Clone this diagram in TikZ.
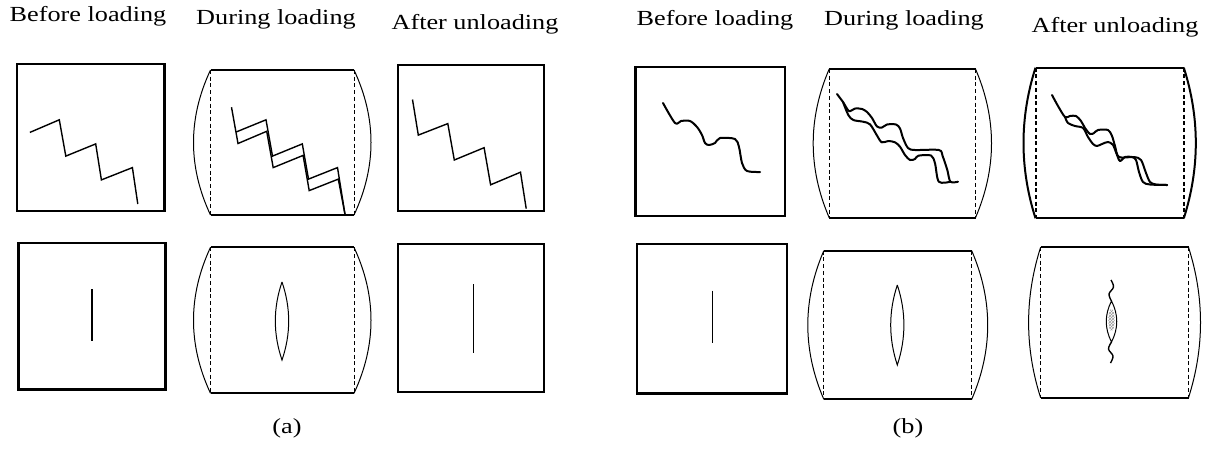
\documentclass[tikz,border=0pt]{standalone}
\usepackage{fontspec}
\setmainfont{Liberation Serif}[FakeStretch=1.22]
\usetikzlibrary{patterns}

\begin{document}
\begin{tikzpicture}[x=1pt,y=-1pt,
    caption/.style={font=\fontsize{21.5}{26}\selectfont,inner sep=0pt},
    frame/.style={line width=2.4pt},
    rim/.style={line width=2pt},
    side/.style={line width=1pt},
    cut/.style={line width=1pt,dash pattern=on 4pt off 2.7pt},
    zigzag/.style={line width=1.4pt,line join=miter},
    wavy/.style={line width=2pt,line join=round,line cap=round}]
  \useasboundingbox (0,0) rectangle (1207,448);

  % column titles
  \node[caption] (a1) at (88,16.7) {Before loading};
  \node[caption] (a2) at (276,19) {During loading};
  \node[caption] (a3) at (475,24) {After unloading};
  \node[caption] (b1) at (715,20) {Before loading};
  \node[caption] (b2) at (904,20) {During loading};
  \node[caption] (b3) at (1115,27.5) {After unloading};
  \node[caption] (a) at (287,428) {(a)};
  \node[caption] (b) at (908,428) {(b)};

  % undeformed blocks
  \draw[frame] (17,64) rectangle (164.6,210.7);
  \draw[frame] (398,65) rectangle (544.2,210.7);
  \draw[frame] (18.4,242.7) rectangle (165.3,389.3);
  \draw[frame] (398,244) rectangle (544.2,391.7);
  \draw[frame] (635.6,67) rectangle (785,216);
  \draw[frame] (636.8,244) rectangle (787,393.3);

  % barrelled blocks: left/right/top/bottom/bulge/side width
  \foreach \l/\r/\t/\b/\d/\w in {210.5/354/70/215/17/1, 210.5/354/247.3/393.3/17/1,
      829.2/975.5/69/217.7/16/1, 1035.5/1183.8/67.7/218.3/12/2,
      823.8/971.7/250.7/399.3/16/1, 1040.6/1188.5/247.3/397.7/12/1}{
    \draw[rim] (\l,\t) -- (\r,\t);
    \draw[rim] (\l,\b) -- (\r,\b);
    \draw[cut,line width=\w pt] (\l,\t) -- (\l,\b);
    \draw[cut,line width=\w pt] (\r,\t) -- (\r,\b);
    \draw[side,line width=\w pt] (\l,\t) .. controls ({\l-4*\d/3},{\t+(\b-\t)/3})
      and ({\l-4*\d/3},{\b-(\b-\t)/3}) .. (\l,\b);
    \draw[side,line width=\w pt] (\r,\t) .. controls ({\r+4*\d/3},{\t+(\b-\t)/3})
      and ({\r+4*\d/3},{\b-(\b-\t)/3}) .. (\r,\b);
  }

  % straight cracks
  \draw[zigzag] (29.9,132.4) -- (59.3,119.8) -- (65.8,156.1) -- (95.7,143.9)
    -- (101.4,179.9) -- (132.4,167.6) -- (137.8,204);
  \draw[zigzag] (231.5,107.2) -- (238,143.5) -- (266.7,131.3) -- (273.2,167.6)
    -- (303.1,155.4) -- (309.2,190.6) -- (338.3,179.1) -- (345.2,215.5);
  \draw[zigzag] (236.1,132) -- (266,119.8) -- (272.5,156.1) -- (302.3,143.9)
    -- (308.5,179.1) -- (337.5,167.6) -- (345.2,215.5);
  \draw[zigzag] (412.5,99.5) -- (418.3,135.1) -- (447.8,123.6) -- (454.3,160)
    -- (484.1,147.7) -- (490.6,184.8) -- (520.5,172.2) -- (526.2,208.6);
  \draw[zigzag] (91.8,289.3) -- (91.8,340.7);
  \draw[zigzag] (473.4,284) -- (473.4,353.3);
  \draw[zigzag] (712.3,290.7) -- (712.3,343.3);

  % rough cracks
  \draw[wavy] plot[smooth,tension=0.5] coordinates {(663,103) (675,123) (681,121)
    (690,121) (697,127) (702,135) (705,143) (709,145) (715,143) (720,138) (735,139)
    (739,147) (742,163) (747,171) (760,172)};
  \draw[wavy] plot[smooth,tension=0.5] coordinates {(837,94) (843,102) (849,111)
    (855,108.5) (862,109) (867,112) (872,118) (877,126.5) (882,127.5) (887,124.5)
    (896,124.5) (900,128.5) (903,138) (908,148) (915,150) (938.8,150) (942.6,156)
    (947.3,170) (950.4,181.7) (958,181.7)};
  \draw[wavy] plot[smooth,tension=0.5] coordinates {(843,102) (848.3,115)
    (853.3,120) (863,121.7) (870,124.3) (876.7,135) (881.7,142.3) (888.3,141)
    (895,142.3) (900,146.7) (905,155) (910,160) (915,159) (918.3,155.7) (931,155.5)
    (935,163.3) (938.8,181.7) (950.4,181.7)};
  \draw[wavy] plot[smooth,tension=0.5] coordinates {(1052,95) (1058,106) (1065,117)
    (1070,116) (1076,116) (1081,121) (1085,128) (1090,134) (1094,133) (1098,130)
    (1108,130) (1112,136) (1115,146) (1119,157) (1134,157) (1141,160) (1146,173)
    (1150,182) (1156,184.5) (1167,185)};
  \draw[wavy] plot[smooth,tension=0.5] coordinates {(1065,117) (1068,123) (1075,126)
    (1083,128) (1088,137) (1093,144) (1097,146) (1102,144) (1108,142) (1113,145)
    (1117,155) (1120,161) (1125,157) (1132,157) (1136,160) (1139,172) (1143,182)
    (1150,184.5) (1167,185)};

  % opened cracks
  \draw[side] (282,282) .. controls (273.1,308) and (273.1,334) .. (282,360)
    .. controls (290.9,334) and (290.9,308) .. (282,282);
  \draw[side] (897.3,285) .. controls (888.5,311.7) and (888.5,338.3) .. (897.3,365)
    .. controls (906.1,338.3) and (906.1,311.7) .. (897.3,285);
  \fill[pattern=crosshatch,pattern color=gray!80] (1111.5,320) ellipse (3.2pt and 11pt);
  \draw[side] (1111.5,301) .. controls (1104.5,314.7) and (1104.5,328.3) .. (1111.5,342)
    .. controls (1118.5,328.3) and (1118.5,314.7) .. (1111.5,301);
  \draw[side,line width=1.4pt] plot[smooth,tension=0.6] coordinates {(1111,280)
    (1113.5,287) (1109,294) (1111.5,301)};
  \draw[side,line width=1.4pt] plot[smooth,tension=0.6] coordinates {(1111.5,342)
    (1108.5,349) (1113,356) (1110.5,363)};
\end{tikzpicture}
\end{document}
